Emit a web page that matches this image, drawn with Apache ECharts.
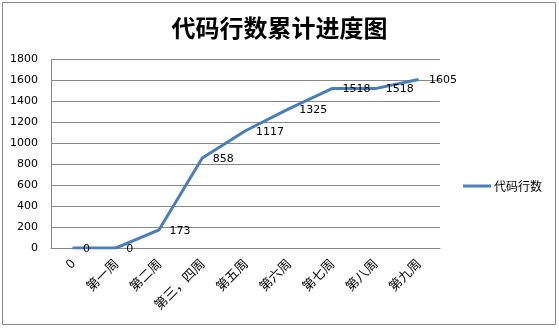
<!DOCTYPE html>
<html><head><meta charset="utf-8">
<script src="https://cdn.jsdelivr.net/npm/echarts@6/dist/echarts.min.js"></script>
<style>html,body{margin:0;padding:0;background:#fff}#c{width:559px;height:328px}</style>
</head><body><div id="c"></div>
<script>
var categories = ["0", "第一周", "第二周", "第三，四周", "第五周", "第六周", "第七周", "第八周", "第九周"];
var values = [0, 0, 173, 858, 1117, 1325, 1518, 1518, 1605];
var seriesName = "代码行数";
var titleText = "代码行数累计进度图";

var chart = echarts.init(document.getElementById('c'));
chart.setOption({
  animation: false,
  backgroundColor: '#fff',
  graphic: [{type: 'rect', shape: {x: 2.5, y: 2.5, width: 553, height: 322}, style: {fill: 'none', stroke: '#888', lineWidth: 1}, silent: true}],
  title: {text: titleText, left: 'center', top: 11, textStyle: {fontFamily: 'Noto Sans CJK SC', fontSize: 24, fontWeight: 'bold', color: '#000'}},
  legend: {data: [seriesName], orient: 'vertical', left: 458, top: 175, itemWidth: 28, itemHeight: 3, itemGap: 4, icon: 'rect',
    textStyle: {fontFamily: 'Noto Sans CJK SC', fontSize: 12, color: '#000', padding: [0,0,0,-2]}},
  grid: {left: 51, right: 119, top: 59, bottom: 80},
  xAxis: {type: 'category', data: categories, boundaryGap: true,
    axisLine: {lineStyle: {color: '#888', width: 1}}, axisTick: {show: false},
    axisLabel: {rotate: 45, interval: 0, fontFamily: 'Noto Sans CJK SC', fontSize: 13, color: '#000', margin: 13}},
  yAxis: {type: 'value', min: 0, max: 1800, interval: 200,
    axisLine: {show: true, lineStyle: {color: '#888', width: 1}}, axisTick: {show: false},
    splitLine: {lineStyle: {color: '#888', width: 1}},
    axisLabel: {fontFamily: 'DejaVu Sans', fontSize: 11, color: '#000', margin: 13, formatter: function (v) { return String(v); }}},
  series: [{name: seriesName, type: 'line', data: values, symbol: 'circle', symbolSize: 1, showSymbol: true,
    lineStyle: {color: '#4a7ebb', width: 3}, itemStyle: {color: '#4a7ebb'},
    label: {show: true, position: 'right', distance: 10, offset: [0, 1], fontFamily: 'DejaVu Sans', fontSize: 11, color: '#000'}}]
});
</script></body></html>
